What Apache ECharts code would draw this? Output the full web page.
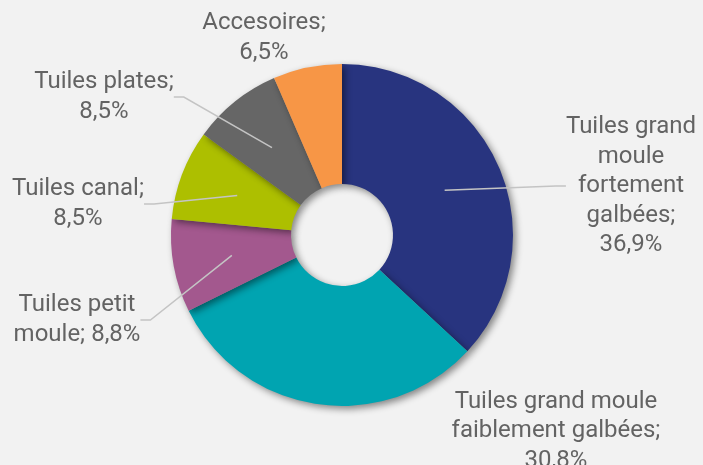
<!DOCTYPE html>
<html>
<head>
<meta charset="utf-8">
<script src="https://cdn.jsdelivr.net/npm/echarts@6/dist/echarts.min.js"></script>
<style>
  html, body { margin: 0; padding: 0; background: #f2f2f2; }
  #chart { width: 703px; height: 465px; }
</style>
</head>
<body>
<div id="chart"></div>
<script>
// categories and shares (%), clockwise from 12 o'clock
const categories = [
  'Tuiles grand\nmoule\nfortement\ngalbées',
  'Tuiles grand moule\nfaiblement galbées',
  'Tuiles petit\nmoule',
  'Tuiles canal',
  'Tuiles plates',
  'Accesoires'
]
const shares = [36.9, 30.8, 8.8, 8.5, 8.5, 6.5]
const colors = ['#28347f', '#00a4b1', '#a3588e', '#adbf00', '#666666', '#f79646']

// label text in the reference: "name; value%" with comma decimals
const fmt = (v) => v.toFixed(1).replace('.', ',') + '%'
const sep = [';\n', ';\n', '; ', ';\n', ';\n', ';\n']
// label centres, placed by hand like the original
const labelPos = [[631, 186], [556, 431], [77, 320], [78, 204], [104, 97], [264, 38]]
const showLine = [true, false, true, true, true, false]

const data = shares.map((v, i) => ({ name: categories[i], value: v }))

const chart = echarts.init(document.getElementById('chart'))
chart.setOption({
  backgroundColor: '#f2f2f2',
  animation: false,
  color: colors,
  series: [
    {
      type: 'pie',
      z: 2,
      center: [342, 235],
      radius: [51, 171],
      startAngle: 90,
      clockwise: true,
      silent: true,
      label: { show: false },
      labelLine: { show: false },
      itemStyle: {
        shadowBlur: 7,
        shadowOffsetX: 3,
        shadowOffsetY: 3,
        shadowColor: 'rgba(0,0,0,0.45)'
      },
      data: data
    },
    {
      // invisible inner ring: leader lines start inside the slices
      type: 'pie',
      z: 5,
      center: [342, 235],
      radius: [0, 112],
      startAngle: 90,
      clockwise: true,
      silent: true,
      avoidLabelOverlap: false,
      itemStyle: { color: 'rgba(0,0,0,0)' },
      label: {
        show: true,
        position: 'outside',
        color: '#636363',
        fontFamily: 'Roboto',
        fontSize: 24,
        lineHeight: 29.5,
        formatter: (p) => p.name + sep[p.dataIndex] + fmt(p.value)
      },
      labelLine: {
        show: true,
        length: 10,
        length2: 10,
        lineStyle: { color: '#c4c4c4', width: 1.5 }
      },
      labelLayout: (p) => ({
        x: labelPos[p.dataIndex][0],
        y: labelPos[p.dataIndex][1],
        align: 'center',
        verticalAlign: 'middle'
      }),
      data: data.map((d, i) => ({
        name: d.name,
        value: d.value,
        labelLine: { show: showLine[i] }
      }))
    }
  ]
})
</script>
</body>
</html>
